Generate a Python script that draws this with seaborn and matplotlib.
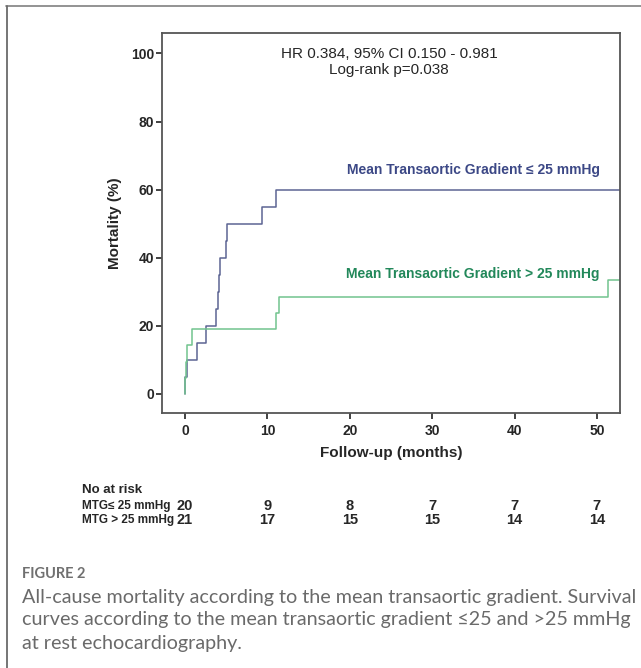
import matplotlib
matplotlib.use('Agg')
import matplotlib.pyplot as plt
import matplotlib.transforms as mtransforms
from matplotlib.lines import Line2D
import seaborn as sns
import pandas as pd

# Kaplan-Meier style mortality curves (months, %)
low_times = [0, 0.05, 0.3, 1.4, 2.6, 3.8, 4.0, 4.1, 4.2, 5.0, 5.1, 9.4, 11.0, 52.8]
low_mort = [0, 5, 10, 15, 20, 25, 30, 35, 40, 45, 50, 55, 60, 60]
high_times = [0, 0.05, 0.1, 0.28, 0.8, 11.05, 11.4, 51.3, 52.8]
high_mort = [0, 4.76, 9.52, 14.29, 19.05, 23.81, 28.57, 33.33, 33.33]

risk_times = [0, 10, 20, 30, 40, 50]
risk_low = [20, 9, 8, 7, 7, 7]
risk_high = [21, 17, 15, 15, 14, 14]

x_ticks = [0, 10, 20, 30, 40, 50]
y_ticks = [0, 20, 40, 60, 80, 100]

BLUE_LINE = '#5d6593'
GREEN_LINE = '#72c48e'
BLUE_TXT = '#3c4886'
GREEN_TXT = '#22885a'

sns.set_style('ticks')
plt.rcParams['font.family'] = ['Liberation Sans', 'DejaVu Sans']

W, H = 641, 668
fig = plt.figure(figsize=(W / 100, H / 100), dpi=100)


def fx(px):
    return px / W


def fy(py):
    return 1 - py / H


ax = fig.add_axes([fx(161.7), fy(412.7), fx(620) - fx(161.7), fy(33) - fy(412.7)])

low = pd.DataFrame({'time': low_times, 'mort': low_mort})
high = pd.DataFrame({'time': high_times, 'mort': high_mort})
sns.lineplot(data=low, x='time', y='mort', drawstyle='steps-post', color=BLUE_LINE,
             lw=1.1, ax=ax, estimator=None)
sns.lineplot(data=high, x='time', y='mort', drawstyle='steps-post', color=GREEN_LINE,
             lw=1.1, ax=ax, estimator=None)

ax.set_xlim(-2.83, 52.8)
ax.set_ylim(-5.5, 106)
ax.set_xticks(x_ticks)
ax.set_yticks(y_ticks)
for side in ['top', 'right', 'left', 'bottom']:
    ax.spines[side].set_visible(True)
    ax.spines[side].set_color('#555555')
    ax.spines[side].set_linewidth(1.3)
ax.tick_params(axis='both', direction='out', length=4, width=1.3, color='#333333',
               labelsize=10, pad=1.5)
ax.tick_params(axis='x', pad=4)
for lab in ax.get_xticklabels() + ax.get_yticklabels():
    lab.set_fontweight('bold')
ax.set_xlabel('')
ax.set_ylabel('')

fig.text(fx(115), fy(223), 'Mortality (%)', rotation=90, ha='center', va='center',
         fontsize=11, fontweight='bold')
fig.text(fx(391), fy(453), 'Follow-up (months)', ha='center', va='center',
         fontsize=11, fontweight='bold')

fig.text(fx(389), fy(54), 'HR 0.384, 95% CI 0.150 - 0.981', ha='center', va='center',
         fontsize=11)
fig.text(fx(389), fy(70), 'Log-rank p=0.038', ha='center', va='center', fontsize=11)

fig.text(fx(600), fy(170), 'Mean Transaortic Gradient \u2264 25 mmHg', ha='right',
         va='center', fontsize=10, fontweight='bold', color=BLUE_TXT)
fig.text(fx(600), fy(274), 'Mean Transaortic Gradient > 25 mmHg', ha='right',
         va='center', fontsize=10, fontweight='bold', color=GREEN_TXT)

# number at risk table
fig.text(fx(82), fy(490), 'No at risk', ha='left', va='center', fontsize=9.5,
         fontweight='bold')
fig.text(fx(82), fy(505.5), 'MTG\u2264 25 mmHg', ha='left', va='center', fontsize=8.5,
         fontweight='bold')
fig.text(fx(82), fy(520.5), 'MTG > 25 mmHg', ha='left', va='center', fontsize=8.5,
         fontweight='bold')
trans = mtransforms.blended_transform_factory(ax.transData, fig.transFigure)
for t, a, b in zip(risk_times, risk_low, risk_high):
    ax.text(t, fy(505.5), str(a), transform=trans, ha='center', va='center',
            fontsize=10.5, fontweight='bold', clip_on=False)
    ax.text(t, fy(520.5), str(b), transform=trans, ha='center', va='center',
            fontsize=10.5, fontweight='bold', clip_on=False)

# caption
cap = ['Lato', 'DejaVu Sans']
fig.text(fx(22), fy(574), 'FIGURE 2', ha='left', va='center', fontsize=10.5,
         fontweight='bold', color='#707070', family=cap)
lines = ['All-cause mortality according to the mean transaortic gradient. Survival',
         'curves according to the mean transaortic gradient \u226425 and >25 mmHg',
         'at rest echocardiography.']
for i, line in enumerate(lines):
    fig.text(fx(22), fy(597 + 23 * i), line, ha='left', va='center', fontsize=14.2,
             color='#6a6a6a', family=cap)

# frame lines around the figure panel
fig.add_artist(Line2D([fx(6), 1], [fy(5.5), fy(5.5)], color='#8a8a8a', lw=1.3))
fig.add_artist(Line2D([fx(6.5), fx(6.5)], [0, fy(5.5)], color='#6a6a6a', lw=1.3))

fig.savefig('out.png', dpi=100)
